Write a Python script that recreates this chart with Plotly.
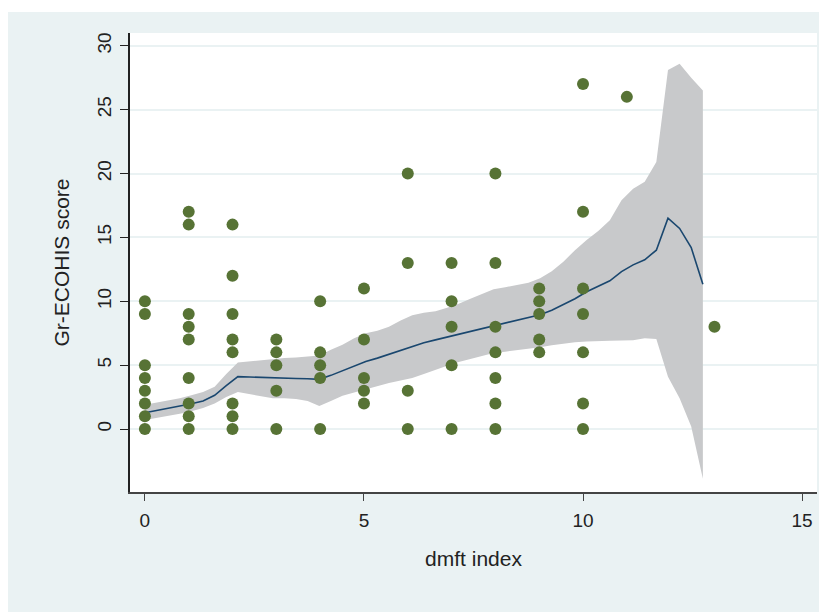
import plotly.graph_objects as go

# Scatter data (dmft index vs Gr-ECOHIS score)
dmft = ([0]*8 + [1]*9 + [2]*8 + [3]*5 + [4]*5 + [5]*5 + [6]*4 + [7]*5 + [8]*7
        + [9]*5 + [10]*7 + [11] + [13])
ecohis = ([0, 1, 2, 3, 4, 5, 9, 10]
          + [0, 1, 2, 4, 7, 8, 9, 16, 17]
          + [0, 1, 2, 6, 7, 9, 12, 16]
          + [0, 3, 5, 6, 7]
          + [0, 4, 5, 6, 10]
          + [2, 3, 4, 7, 11]
          + [0, 3, 13, 20]
          + [0, 5, 8, 10, 13]
          + [0, 2, 4, 6, 8, 13, 20]
          + [6, 7, 9, 10, 11]
          + [0, 2, 6, 9, 11, 17, 27]
          + [26]
          + [8])

# Local polynomial fit with confidence band (grid)
grid_x = [0.000, 0.265, 0.531, 0.796, 1.061, 1.327, 1.592, 1.857, 2.122, 2.388,
          2.653, 2.918, 3.184, 3.449, 3.714, 3.980, 4.245, 4.510, 4.776, 5.041,
          5.306, 5.571, 5.837, 6.102, 6.367, 6.633, 6.898, 7.163, 7.429, 7.694,
          7.959, 8.224, 8.490, 8.755, 9.020, 9.286, 9.551, 9.816, 10.082, 10.347,
          10.612, 10.878, 11.143, 11.408, 11.673, 11.939, 12.204, 12.469, 12.735]
fit = [1.28, 1.45, 1.60, 1.80, 1.98, 2.20, 2.64, 3.40, 4.10, 4.07,
       4.03, 4.00, 3.98, 3.96, 3.93, 3.89, 4.20, 4.58, 4.95, 5.28,
       5.55, 5.85, 6.20, 6.45, 6.75, 6.98, 7.20, 7.42, 7.63, 7.85,
       8.07, 8.30, 8.55, 8.75, 8.95, 9.30, 9.75, 10.20, 10.75, 11.15,
       11.60, 12.32, 12.85, 13.25, 14.00, 16.50, 15.70, 14.20, 11.33]
upper = [1.90, 2.05, 2.20, 2.40, 2.65, 2.90, 3.30, 4.30, 5.20, 5.30,
         5.40, 5.50, 5.55, 5.60, 5.70, 5.75, 6.20, 6.60, 7.10, 7.50,
         7.70, 8.00, 8.50, 8.90, 9.10, 9.22, 9.50, 9.80, 10.20, 10.60,
         10.95, 11.10, 11.25, 11.45, 11.80, 12.35, 13.10, 14.00, 14.80, 15.50,
         16.35, 17.90, 18.80, 19.35, 20.90, 28.10, 28.60, 27.50, 26.50]
lower = [0.70, 0.85, 1.00, 1.20, 1.40, 1.65, 2.00, 2.50, 2.90, 2.75,
         2.55, 2.40, 2.40, 2.35, 2.20, 1.80, 2.20, 2.60, 2.85, 3.10,
         3.40, 3.60, 3.80, 4.00, 4.30, 4.65, 4.95, 5.25, 5.50, 5.75,
         5.95, 6.05, 6.15, 6.25, 6.40, 6.55, 6.70, 6.80, 6.85, 6.90,
         6.90, 6.92, 6.95, 7.10, 7.05, 4.10, 2.40, 0.20, -3.90]

x_ticks = [0, 5, 10, 15]
y_ticks = [0, 5, 10, 15, 20, 25, 30]

BG = "#EAF2F3"
FONT = "Liberation Sans, Arial, sans-serif"
TXT = "#222"

fig = go.Figure()
fig.add_trace(go.Scatter(x=grid_x, y=lower, mode="lines", line=dict(width=0),
                         hoverinfo="skip", showlegend=False))
fig.add_trace(go.Scatter(x=grid_x, y=upper, mode="lines", line=dict(width=0),
                         fill="tonexty", fillcolor="#C8C9CB",
                         hoverinfo="skip", showlegend=False))
fig.add_trace(go.Scatter(x=grid_x, y=fit, mode="lines",
                         line=dict(color="#1A476F", width=1.6), showlegend=False))
fig.add_trace(go.Scatter(x=dmft, y=ecohis, mode="markers",
                         marker=dict(color="#577335", size=12, line=dict(width=0)),
                         showlegend=False))

W, H = 827, 612
L, T = 122, 25
pw, ph = 687, 459
R, B = W - L - pw, H - T - ph

fig.update_layout(
    width=W, height=H, autosize=False,
    margin=dict(l=L, r=R, t=T, b=B, pad=0),
    paper_bgcolor=BG, plot_bgcolor="white",
    font=dict(family=FONT, size=19, color=TXT),
    showlegend=False,
    shapes=[
        dict(type="rect", xref="paper", yref="paper",
             x0=-L / pw, x1=(W - L) / pw, y0=(ph + T - 4) / ph, y1=(ph + T) / ph,
             fillcolor="white", line=dict(width=0), layer="below"),
    ],
)
fig.update_xaxes(
    range=[-0.34, 15.34], tickvals=x_ticks, ticktext=[str(v) for v in x_ticks],
    showgrid=False, zeroline=False, showline=True, linecolor="#444", linewidth=1.5,
    ticks="outside", ticklen=7, tickcolor="#444", tickwidth=1,
    ticklabelstandoff=3,
    tickfont=dict(size=19, color=TXT),
    title=dict(text="dmft index", font=dict(size=21, color=TXT), standoff=22),
)
fig.update_yaxes(
    range=[-4.93, 31.0], tickvals=y_ticks, ticktext=[str(v) for v in y_ticks],
    showgrid=True, gridcolor=BG, gridwidth=1.5, zeroline=False,
    showline=True, linecolor="#222", linewidth=1.5,
    ticks="outside", ticklen=8, tickcolor="#222", tickwidth=1,
    ticklabelstandoff=2,
    tickangle=-90, tickfont=dict(size=19, color=TXT),
    title=dict(text="Gr-ECOHIS score", font=dict(size=21, color=TXT), standoff=18),
)

fig.write_html("out.html")
